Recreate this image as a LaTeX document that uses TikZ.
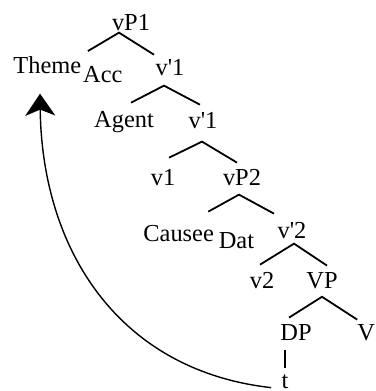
\documentclass[tikz,border=0pt]{standalone}
\usepackage{fontspec}
\setmainfont{Liberation Serif}
\usetikzlibrary{arrows.meta,calc}

\begin{document}
\begin{tikzpicture}[x=0.5pt,y=-0.5pt,>=Stealth]
  \tikzstyle{cat}=[inner sep=0pt,anchor=base,font=\fontsize{12.2}{14}\selectfont]
  \tikzstyle{branch}=[line width=0.9pt]
  \tikzstyle{movement}=[line width=0.7pt,-{Stealth[length=11pt,width=15pt,inset=3pt]}]
  \useasboundingbox (0,0) rectangle (375,391);
  % categories
  \node[cat] (vP1) at (131,31) {vP1};
  \node[cat,anchor=base west] (theme) at (13,73) {Theme\hspace{1pt}\raisebox{-5pt}{Acc}};
  \node[cat] (vbar1) at (170,75) {v\textquotesingle{}1};
  \node[cat] (agent) at (124,127) {Agent};
  \node[cat] (vbar1b) at (203,128) {v\textquotesingle{}1};
  \node[cat] (v1) at (163,185) {v1};
  \node[cat] (vP2) at (242,185) {vP2};
  \node[cat,anchor=base west] (causee) at (143,241) {Causee\hspace{2.5pt}\raisebox{-3.5pt}{Dat}};
  \node[cat] (vbar2) at (292,238) {v\textquotesingle{}2};
  \node[cat] (v2) at (262,288) {v2};
  \node[cat] (VP) at (322,288) {VP};
  \node[cat] (DP) at (296,340) {DP};
  \node[cat,anchor=base west] (V) at (357,340) {V};
  \node[cat] (t) at (285,388) {t};
  % branches
  \draw[branch] ($(theme.north)+(20,-4.6)$) -- ($(vP1.south)+(-12,1)$) -- ($(vbar1.north)+(-16,-3.8)$);
  \draw[branch] ($(agent.north)+(7,-7.8)$) -- ($(vbar1.south)+(-6,10)$) -- ($(vbar1b.north)+(-3,-6.8)$);
  \draw[branch] ($(v1.north)+(6,-10.8)$) -- ($(vbar1b.south)+(-1,13)$) -- ($(vP2.north)+(-5,-5.8)$);
  \draw[branch] ($(causee.north)+(9.5,-12.8)$) -- ($(vP2.south)+(-3,9)$) -- ($(vbar2.north)+(-18,-7.8)$);
  \draw[branch] ($(v2.north)+(-2,-6.8)$) -- ($(vbar2.south)+(2,5)$) -- ($(VP.north)+(5,-6)$);
  \draw[branch] ($(DP.north)+(-7,-6)$) -- ($(VP.south)+(0,8)$) -- ($(V.north)+(-9,-4)$);
  \draw[line width=0.6pt] ($(DP.south)+(-11,10)$) -- ($(t.north)+(0,-6)$);
  % movement of the theme
  \coordinate (trace) at ($(t.south west)+(-10,-1)$);
  \coordinate (landing) at ($(theme.south west)+(27,10)$);
  \draw[movement] (trace) .. controls ($(trace)+(-152,-17)$) and ($(landing)+(2,157)$) .. (landing);
\end{tikzpicture}
\end{document}
